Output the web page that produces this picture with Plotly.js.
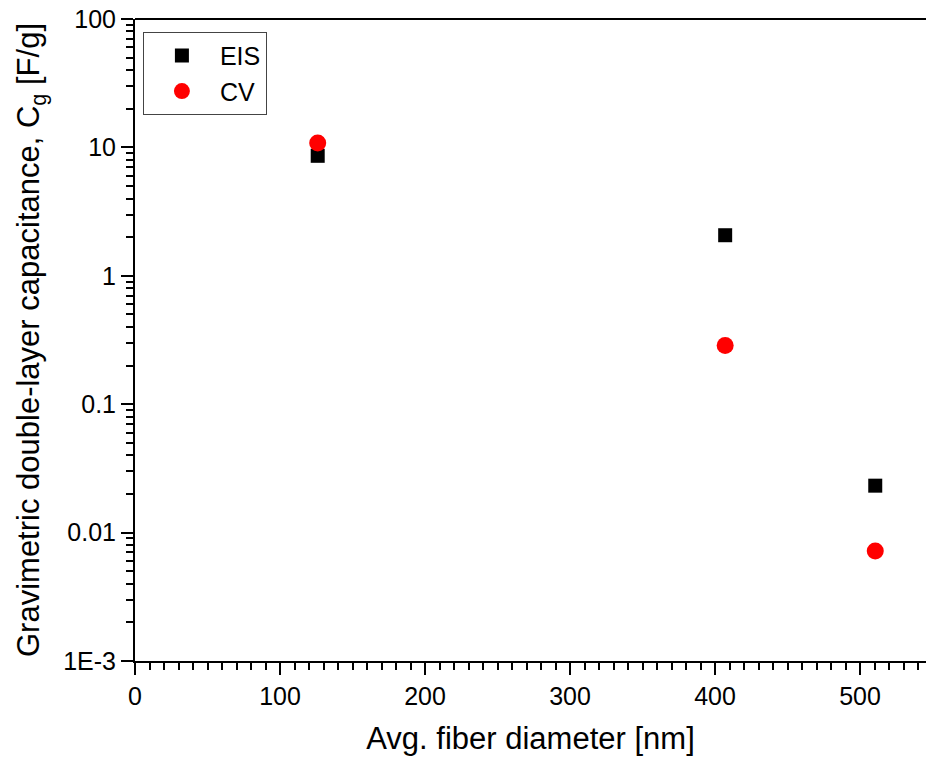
<!DOCTYPE html>
<html>
<head>
<meta charset="utf-8">
<script src="https://cdn.plot.ly/plotly-3.0.1.min.js"></script>
<style>html,body{margin:0;padding:0;background:#fff;}#chart{width:926px;height:761px;}</style>
</head>
<body>
<div id="chart"></div>
<script>
const diameterNm = [126, 407, 510.5];
const eisCapacitance = [8.6, 2.07, 0.0232];
const cvCapacitance = [10.8, 0.287, 0.0072];
const yTickVals = [0.001, 0.01, 0.1, 1, 10, 100];
const yTickText = ["1E-3", "0.01", "0.1", "1", "10", "100"];
const xTickVals = [0, 100, 200, 300, 400, 500];

const yMinor = [];
for (let e = -3; e < 2; e++) {
  for (let m = 2; m <= 9; m++) yMinor.push(m * Math.pow(10, e));
}
const xMinor = [];
for (let v = 0; v <= 540; v += 10) if (v % 100 !== 0) xMinor.push(v);

const font = "Liberation Sans, Arial, sans-serif";

const traces = [
  {x: diameterNm, y: eisCapacitance, name: "EIS", mode: "markers", type: "scatter",
   marker: {symbol: "square", size: 14, color: "#000000"}},
  {x: diameterNm, y: cvCapacitance, name: "CV", mode: "markers", type: "scatter",
   marker: {symbol: "circle", size: 17, color: "#ff0000"}}
];

const layout = {
  width: 926, height: 761,
  margin: {l: 135, r: 0, t: 19, b: 100},
  paper_bgcolor: "#fff", plot_bgcolor: "#fff",
  font: {family: font, color: "#000", size: 25},
  showlegend: true,
  legend: {x: 0.01, y: 0.98, xanchor: "left", yanchor: "top",
    bordercolor: "#444", borderwidth: 1, bgcolor: "#fff",
    font: {family: font, size: 25, color: "#000"}, itemwidth: 66, tracegroupgap: 0},
  xaxis: {
    range: [0, 545.5], showgrid: false, zeroline: false,
    showline: true, linecolor: "#000", linewidth: 2,
    ticks: "outside", ticklen: 12, tickwidth: 2, tickcolor: "#000",
    tickmode: "array", tickvals: xTickVals,
    tickfont: {family: font, size: 25, color: "#000"},
    minor: {tickmode: "array", tickvals: xMinor, ticks: "outside", ticklen: 7, tickwidth: 2, tickcolor: "#000", showgrid: false},
    title: {text: "Avg. fiber diameter [nm]", font: {family: font, size: 31, color: "#000"}, standoff: 18}
  },
  yaxis: {
    type: "log", range: [-3, 2], showgrid: false, zeroline: false,
    showline: true, linecolor: "#000", linewidth: 2,
    ticks: "outside", ticklen: 12, tickwidth: 2, tickcolor: "#000",
    tickmode: "array", tickvals: yTickVals, ticktext: yTickText,
    tickfont: {family: font, size: 25, color: "#000"},
    minor: {tickmode: "array", tickvals: yMinor, ticks: "outside", ticklen: 7, tickwidth: 2, tickcolor: "#000", showgrid: false},
    title: {text: "Gravimetric double-layer capacitance, C<sub>g</sub> [F/g]", font: {family: font, size: 31, color: "#000"}, standoff: 14}
  },
  shapes: [{type: "line", xref: "paper", yref: "paper", x0: 0, x1: 1, y0: 1, y1: 1,
    line: {color: "#000", width: 2}}]
};

Plotly.newPlot("chart", traces, layout, {displayModeBar: false, staticPlot: true});
</script>
</body>
</html>
